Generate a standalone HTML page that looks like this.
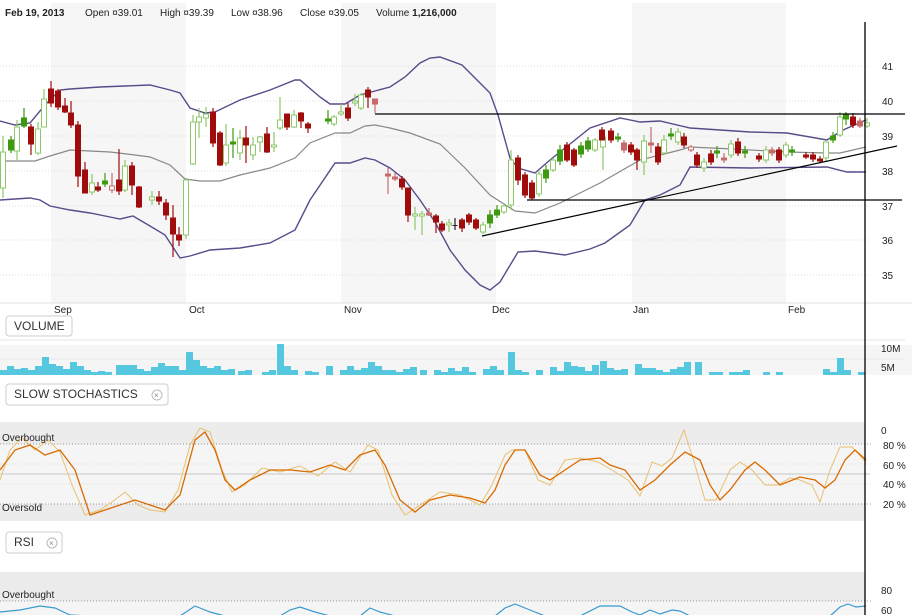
<!DOCTYPE html>
<html><head><meta charset="utf-8">
<style>
body{margin:0;background:#fff;}
svg{display:block}
text{font-family:"Liberation Sans",sans-serif;font-size:10px;fill:#222}
</style></head><body>
<svg width="916" height="615" viewBox="0 0 916 615" xmlns="http://www.w3.org/2000/svg">
<rect x="0" y="0" width="916" height="615" fill="#fff"/>
<rect x="51" y="3" width="135" height="300" fill="#f6f6f6"/>
<rect x="341" y="3" width="155" height="300" fill="#f6f6f6"/>
<rect x="632" y="3" width="154" height="300" fill="#f6f6f6"/>
<line x1="0" y1="303" x2="912" y2="303" stroke="#e0e0e0"/>
<g stroke="#ddd" stroke-dasharray="1,2">
<line x1="0" y1="66" x2="870" y2="66"/><line x1="0" y1="101" x2="870" y2="101"/><line x1="0" y1="136" x2="870" y2="136"/><line x1="0" y1="171" x2="870" y2="171"/><line x1="0" y1="206" x2="870" y2="206"/><line x1="0" y1="240" x2="870" y2="240"/><line x1="0" y1="275" x2="870" y2="275"/>
</g>
<text x="882" y="70">41</text><text x="882" y="105">40</text><text x="882" y="140">39</text><text x="882" y="175">38</text><text x="882" y="210">37</text><text x="882" y="244">36</text><text x="882" y="279">35</text>
<text x="5" y="16" style="font-weight:bold">Feb 19, 2013</text>
<text x="85" y="16">Open  ¤39.01</text>
<text x="160" y="16">High  ¤39.39</text>
<text x="231" y="16">Low  ¤38.96</text>
<text x="300" y="16">Close  ¤39.05</text>
<text x="376" y="16">Volume  <tspan style="font-weight:bold">1,216,000</tspan></text>

<!-- bands -->
<polyline fill="none" stroke="#5a4a8a" stroke-width="1.4" points="0,121 15,125 30,123 45,105 60,90 70,89 100,87 150,85 170,90 180,93 190,108 205,113 215,112 240,100 270,90 295,80 300,80 320,97 330,104 345,104 360,95 375,91 390,87 405,77 420,63 430,58 440,57 462,65 490,93 498,115 510,158 518,168 535,173 550,160 590,128 620,118 640,122 660,121 690,128 750,132 787,133 827,140 843,130 866,120"/>
<polyline fill="none" stroke="#888" stroke-width="1.2" points="0,161 35,161 50,156 70,150 90,151 110,152 135,155 150,157 170,165 185,179 200,181 220,181 240,175 270,168 295,158 310,143 335,133 350,133 365,126 375,125 390,128 410,133 440,144 465,168 490,195 515,211 535,213 560,203 600,183 640,160 680,150 690,147 733,149 787,152 827,153 840,153 866,147"/>
<polyline fill="none" stroke="#5a4a8a" stroke-width="1.4" points="0,200 30,198 40,200 50,206 70,210 90,213 110,217 120,219 133,216 150,226 165,235 180,258 190,256 210,250 240,248 270,243 295,230 310,200 335,163 350,163 365,158 375,160 390,168 405,180 420,200 435,222 450,250 465,270 480,285 490,290 500,282 518,252 535,251 565,255 590,249 605,243 630,225 645,200 660,195 680,185 690,167 750,168 827,167 847,172 866,172"/>

<!-- wicks -->
<g stroke-width="1.2">
<path stroke="#8cc86a" d="M3,136V198M17,120V160M38,122V155M44,89V127M92,174V195M125,160V192M152,191V205M186,178V239M193,115V165M199,108V138M206,107V127M226,124V166M240,130V160M253,137V160M260,136V152M274,132V152M280,97V130M294,110V128M334,115V126M341,104V116M355,94V106M361,93V110M415,207V230M422,211V235M449,219V232M483,222V234M504,203V214M511,150V210M539,170V197M553,158V172M595,138V152M603,130V170M644,135V175M664,135V155M678,128V145M704,158V172M731,140V158M766,146V163M786,142V158M826,140V162M840,112V137M867,118V128"/>
<path stroke="#3d9a10" d="M11,136V153M24,108V128M105,173V187M233,128V158M328,110V124M490,210V228M497,205V218M546,165V183M560,145V165M581,142V158M588,137V152M618,133V142M671,128V140M717,146V158M745,146V158M792,146V156M833,132V143M846,112V125"/>
<path stroke="#c86a6a" d="M112,173V193M375,99V113M388,168V194M395,173V181M429,208V216M624,140V153M651,127V153M691,145V152M724,153V163M772,147V156M860,118V128"/>
<path stroke="#a00c0c" d="M31,124V155M51,81V107M58,89V110M65,98V113M71,101V128M78,121V187M85,162V193M98,182V192M119,149V195M132,162V195M139,186V208M159,191V205M166,199V220M173,205V257M179,227V246M213,108V147M220,131V166M246,126V163M267,127V153M287,114V130M301,112V128M308,122V133M348,103V121M368,87V108M402,176V190M408,188V222M436,214V233M442,221V232M462,218V232M469,213V225M476,218V230M518,155V185M525,172V198M532,180V200M567,142V162M574,148V167M602,127V143M611,128V143M631,142V155M637,148V170M658,143V165M684,133V148M697,152V168M711,150V165M738,138V156M759,153V162M779,147V163M806,152V159M813,152V162M820,156V163M853,113V128"/>
<path stroke="#222" d="M455,218V230"/>
</g>
<g fill="#fff" stroke="#8cc86a">
<rect x="0.5" y="152" width="5" height="36"/><rect x="14.5" y="127" width="5" height="24"/><rect x="35.5" y="129" width="5" height="24"/><rect x="41.5" y="99" width="5" height="28"/><rect x="89.5" y="183" width="5" height="9"/><rect x="122.5" y="166" width="5" height="24"/><rect x="149.5" y="197" width="5" height="3"/><rect x="183.5" y="180" width="5" height="55"/><rect x="190.5" y="122" width="5" height="42"/><rect x="196.5" y="117" width="5" height="5"/><rect x="203.5" y="114" width="5" height="4"/><rect x="223.5" y="145" width="5" height="18"/><rect x="237.5" y="138" width="5" height="15"/><rect x="250.5" y="145" width="5" height="10"/><rect x="257.5" y="137" width="5" height="5"/><rect x="271.5" y="145" width="5" height="2"/><rect x="277.5" y="120" width="5" height="8"/><rect x="291.5" y="115" width="5" height="12"/><rect x="331.5" y="117" width="5" height="7"/><rect x="338.5" y="112" width="5" height="2"/><rect x="352.5" y="101" width="5" height="2"/><rect x="358.5" y="95" width="5" height="13"/><rect x="412.5" y="214" width="5" height="2"/><rect x="419.5" y="214" width="5" height="2"/><rect x="446.5" y="223" width="5" height="2"/><rect x="480.5" y="225" width="5" height="7"/><rect x="501.5" y="206" width="5" height="6"/><rect x="508.5" y="160" width="5" height="45"/><rect x="536.5" y="174" width="5" height="20"/><rect x="550.5" y="160" width="5" height="10"/><rect x="592.5" y="140" width="5" height="10"/><rect x="600.5" y="137" width="5" height="10"/><rect x="641.5" y="141" width="5" height="21"/><rect x="661.5" y="140" width="5" height="13"/><rect x="675.5" y="132" width="5" height="10"/><rect x="701.5" y="162" width="5" height="6"/><rect x="728.5" y="144" width="5" height="11"/><rect x="763.5" y="150" width="5" height="10"/><rect x="783.5" y="145" width="5" height="10"/><rect x="823.5" y="142" width="5" height="16"/><rect x="837.5" y="117" width="5" height="18"/><rect x="864.5" y="123" width="5" height="3"/>
</g>
<g fill="#3d9a10" stroke="#3d9a10">
<rect x="8.5" y="140" width="5" height="10"/><rect x="21.5" y="118" width="5" height="8"/><rect x="102.5" y="181" width="5" height="3"/><rect x="230.5" y="142" width="5" height="2"/><rect x="325.5" y="119" width="5" height="2"/><rect x="487.5" y="215" width="5" height="8"/><rect x="494.5" y="210" width="5" height="5"/><rect x="543.5" y="170" width="5" height="8"/><rect x="557.5" y="150" width="5" height="11"/><rect x="578.5" y="146" width="5" height="8"/><rect x="585.5" y="141" width="5" height="8"/><rect x="615.5" y="137" width="5" height="2"/><rect x="668.5" y="134" width="5" height="2"/><rect x="714.5" y="151" width="5" height="2"/><rect x="742.5" y="151" width="5" height="2"/><rect x="789.5" y="150" width="5" height="2"/><rect x="830.5" y="136" width="5" height="4"/><rect x="843.5" y="115" width="5" height="4"/>
</g>
<g fill="#c86a6a" stroke="#c86a6a">
<rect x="109.5" y="186" width="5" height="4" fill="#fff"/><rect x="372.5" y="99" width="5" height="5"/><rect x="385.5" y="174" width="5" height="2"/><rect x="392.5" y="177" width="5" height="2"/><rect x="426.5" y="213" width="5" height="2"/><rect x="621.5" y="143" width="5" height="7"/><rect x="648.5" y="143" width="5" height="2"/><rect x="688.5" y="147" width="5" height="3" fill="#fff"/><rect x="721.5" y="158" width="5" height="2"/><rect x="769.5" y="150" width="5" height="3"/><rect x="857.5" y="121" width="5" height="5"/>
</g>
<g fill="#a00c0c" stroke="#a00c0c">
<rect x="28.5" y="127" width="5" height="17"/><rect x="48.5" y="89" width="5" height="14"/><rect x="55.5" y="91" width="5" height="16"/><rect x="62.5" y="106" width="5" height="6"/><rect x="68.5" y="113" width="5" height="12"/><rect x="75.5" y="125" width="5" height="51"/><rect x="82.5" y="170" width="5" height="23"/><rect x="95.5" y="187" width="5" height="3"/><rect x="116.5" y="180" width="5" height="11"/><rect x="129.5" y="166" width="5" height="19"/><rect x="136.5" y="187" width="5" height="20"/><rect x="156.5" y="197" width="5" height="4"/><rect x="163.5" y="203" width="5" height="12"/><rect x="170.5" y="218" width="5" height="16"/><rect x="176.5" y="235" width="5" height="5"/><rect x="210.5" y="112" width="5" height="31"/><rect x="217.5" y="133" width="5" height="32"/><rect x="243.5" y="138" width="5" height="7"/><rect x="264.5" y="134" width="5" height="18"/><rect x="284.5" y="114" width="5" height="13"/><rect x="298.5" y="113" width="5" height="8"/><rect x="305.5" y="124" width="5" height="4"/><rect x="345.5" y="108" width="5" height="10"/><rect x="365.5" y="90" width="5" height="7"/><rect x="399.5" y="179" width="5" height="8"/><rect x="405.5" y="188" width="5" height="27"/><rect x="433.5" y="216" width="5" height="6"/><rect x="439.5" y="224" width="5" height="6"/><rect x="459.5" y="220" width="5" height="8"/><rect x="466.5" y="215" width="5" height="7"/><rect x="473.5" y="220" width="5" height="8"/><rect x="515.5" y="158" width="5" height="22"/><rect x="522.5" y="175" width="5" height="20"/><rect x="529.5" y="183" width="5" height="15"/><rect x="564.5" y="145" width="5" height="15"/><rect x="571.5" y="150" width="5" height="15"/><rect x="599.5" y="130" width="5" height="10"/><rect x="608.5" y="131" width="5" height="9"/><rect x="628.5" y="145" width="5" height="7"/><rect x="634.5" y="150" width="5" height="10"/><rect x="655.5" y="147" width="5" height="15"/><rect x="681.5" y="137" width="5" height="8"/><rect x="694.5" y="155" width="5" height="10"/><rect x="708.5" y="154" width="5" height="8"/><rect x="735.5" y="142" width="5" height="11"/><rect x="756.5" y="156" width="5" height="3"/><rect x="776.5" y="150" width="5" height="10"/><rect x="803.5" y="155" width="5" height="2"/><rect x="810.5" y="155" width="5" height="4"/><rect x="817.5" y="159" width="5" height="2"/><rect x="850.5" y="117" width="5" height="8"/>
</g>
<rect x="452.5" y="225" width="5" height="1" fill="#222"/>
<line x1="375" y1="114" x2="905" y2="114" stroke="#000" stroke-width="1.2"/>
<line x1="527" y1="200" x2="902" y2="200" stroke="#000" stroke-width="1.2"/>
<line x1="482" y1="236" x2="897" y2="146" stroke="#000" stroke-width="1.2"/>

<text x="54" y="313">Sep</text><text x="189" y="313">Oct</text><text x="344" y="313">Nov</text>
<text x="492" y="313">Dec</text><text x="633" y="313">Jan</text><text x="788" y="313">Feb</text>

<rect x="6" y="316" width="66" height="20" rx="3" fill="#fff" stroke="#ccc"/>
<text x="14" y="330" style="font-size:12px;fill:#333">VOLUME</text>
<rect x="0" y="345" width="912" height="30" fill="#f5f5f5"/>
<line x1="0" y1="340" x2="905" y2="340" stroke="#e6e6e6"/>
<line x1="0" y1="359" x2="905" y2="359" stroke="#e6e6e6"/>
<g fill="#55c8e0">
<rect x="0" y="370" width="7" height="5"/><rect x="7" y="366" width="7" height="9"/><rect x="14" y="369" width="7" height="6"/><rect x="21" y="368" width="7" height="7"/><rect x="28" y="370" width="7" height="5"/><rect x="35" y="366" width="7" height="9"/><rect x="42" y="357" width="7" height="18"/><rect x="49" y="364" width="7" height="11"/><rect x="56" y="366" width="7" height="9"/><rect x="63" y="369" width="7" height="6"/><rect x="70" y="362" width="7" height="13"/><rect x="77" y="366" width="7" height="9"/><rect x="84" y="370" width="7" height="5"/><rect x="91" y="372" width="7" height="3"/><rect x="98" y="371" width="7" height="4"/><rect x="105" y="372" width="7" height="3"/><rect x="116" y="365" width="7" height="10"/><rect x="123" y="365" width="7" height="10"/><rect x="130" y="365" width="7" height="10"/><rect x="137" y="369" width="7" height="6"/><rect x="144" y="371" width="7" height="4"/><rect x="151" y="367" width="7" height="8"/><rect x="158" y="363" width="7" height="12"/><rect x="165" y="366" width="7" height="9"/><rect x="172" y="366" width="7" height="9"/><rect x="179" y="370" width="7" height="5"/><rect x="186" y="352" width="7" height="23"/><rect x="193" y="360" width="7" height="15"/><rect x="200" y="366" width="7" height="9"/><rect x="207" y="368" width="7" height="7"/><rect x="214" y="366" width="7" height="9"/><rect x="221" y="370" width="7" height="5"/><rect x="228" y="369" width="7" height="6"/><rect x="238" y="371" width="7" height="4"/><rect x="245" y="370" width="7" height="5"/><rect x="262" y="372" width="7" height="3"/><rect x="269" y="370" width="7" height="5"/><rect x="277" y="344" width="7" height="31"/><rect x="284" y="366" width="7" height="9"/><rect x="291" y="370" width="7" height="5"/><rect x="305" y="371" width="7" height="4"/><rect x="312" y="372" width="7" height="3"/><rect x="326" y="366" width="7" height="9"/><rect x="340" y="370" width="7" height="5"/><rect x="347" y="366" width="7" height="9"/><rect x="354" y="370" width="7" height="5"/><rect x="361" y="368" width="7" height="7"/><rect x="368" y="362" width="7" height="13"/><rect x="375" y="366" width="7" height="9"/><rect x="382" y="370" width="7" height="5"/><rect x="389" y="370" width="7" height="5"/><rect x="396" y="372" width="7" height="3"/><rect x="403" y="369" width="7" height="6"/><rect x="410" y="367" width="7" height="8"/><rect x="420" y="370" width="7" height="5"/><rect x="434" y="370" width="7" height="5"/><rect x="441" y="372" width="7" height="3"/><rect x="448" y="368" width="7" height="7"/><rect x="455" y="371" width="7" height="4"/><rect x="462" y="367" width="7" height="8"/><rect x="469" y="372" width="7" height="3"/><rect x="483" y="369" width="7" height="6"/><rect x="490" y="366" width="7" height="9"/><rect x="497" y="370" width="7" height="5"/><rect x="508" y="352" width="7" height="23"/><rect x="515" y="370" width="7" height="5"/><rect x="522" y="372" width="7" height="3"/><rect x="536" y="370" width="7" height="5"/><rect x="550" y="367" width="7" height="8"/><rect x="557" y="371" width="7" height="4"/><rect x="564" y="362" width="7" height="13"/><rect x="571" y="366" width="7" height="9"/><rect x="578" y="367" width="7" height="8"/><rect x="585" y="371" width="7" height="4"/><rect x="592" y="365" width="7" height="10"/><rect x="600" y="361" width="7" height="14"/><rect x="607" y="368" width="7" height="7"/><rect x="614" y="370" width="7" height="5"/><rect x="621" y="369" width="7" height="6"/><rect x="635" y="364" width="7" height="11"/><rect x="642" y="368" width="7" height="7"/><rect x="649" y="368" width="7" height="7"/><rect x="656" y="370" width="7" height="5"/><rect x="663" y="372" width="7" height="3"/><rect x="670" y="369" width="7" height="6"/><rect x="677" y="367" width="7" height="8"/><rect x="684" y="362" width="7" height="13"/><rect x="695" y="362" width="7" height="13"/><rect x="709" y="372" width="7" height="3"/><rect x="716" y="372" width="7" height="3"/><rect x="729" y="372" width="7" height="3"/><rect x="736" y="372" width="7" height="3"/><rect x="743" y="370" width="7" height="5"/><rect x="763" y="372" width="7" height="3"/><rect x="776" y="372" width="7" height="3"/><rect x="823" y="369" width="7" height="6"/><rect x="830" y="372" width="7" height="3"/><rect x="837" y="358" width="7" height="17"/><rect x="844" y="370" width="7" height="5"/><rect x="858" y="372" width="7" height="3"/>
</g>
<text x="881" y="352">10M</text><text x="881" y="371">5M</text>

<rect x="6" y="384" width="162" height="21" rx="3" fill="#fff" stroke="#ccc"/>
<text x="14" y="398" style="font-size:12px;fill:#333">SLOW STOCHASTICS</text>
<circle cx="157" cy="395" r="5" fill="#fff" stroke="#bbb"/><text x="154" y="398" style="font-size:8px;fill:#888">×</text>
<rect x="0" y="422" width="865" height="99" fill="#ececec"/>
<rect x="0" y="444" width="865" height="60" fill="#f5f5f5"/>
<line x1="0" y1="444" x2="872" y2="444" stroke="#999" stroke-dasharray="1,2"/>
<line x1="0" y1="504" x2="872" y2="504" stroke="#999" stroke-dasharray="1,2"/>
<line x1="0" y1="464" x2="872" y2="464" stroke="#ddd" stroke-dasharray="1,2"/>
<line x1="0" y1="484" x2="872" y2="484" stroke="#ddd" stroke-dasharray="1,2"/>
<line x1="0" y1="474" x2="870" y2="474" stroke="#c8c8c8"/>
<polyline fill="none" stroke="#e8c070" stroke-width="1" points="0,480 10,450 22,438 35,450 48,440 60,452 72,485 85,515 100,510 112,502 125,492 138,505 150,510 165,512 178,490 190,445 200,428 210,432 222,470 232,492 245,485 262,468 280,472 300,466 318,476 335,462 350,472 368,445 378,450 392,495 405,515 420,505 440,492 460,495 480,505 492,485 505,455 512,450 525,450 538,480 550,485 565,460 580,458 598,462 612,470 628,480 640,496 652,462 662,466 672,458 684,430 695,465 705,500 716,500 730,470 740,462 752,470 765,485 778,485 790,478 800,480 812,485 820,502 830,470 840,447 852,447 866,462"/>
<polyline fill="none" stroke="#d96a00" stroke-width="1.3" points="0,470 15,450 30,445 45,455 60,450 75,470 90,515 105,510 120,505 135,500 150,505 165,510 180,495 195,440 205,432 215,450 225,480 235,490 250,480 270,470 290,470 310,472 330,465 345,470 360,455 375,450 385,465 400,500 415,512 430,500 450,495 470,498 485,503 495,490 505,465 515,450 525,450 540,475 550,480 565,470 580,460 600,458 610,465 625,470 640,490 655,480 670,465 685,452 700,460 710,485 720,500 730,490 745,470 755,462 765,470 780,485 800,477 815,480 825,488 835,480 845,460 855,450 866,460"/>
<text x="2" y="441">Overbought</text><text x="2" y="511">Oversold</text>
<text x="881" y="434">0</text><text x="883" y="449">80  %</text><text x="883" y="469">60  %</text>
<text x="883" y="488">40  %</text><text x="883" y="508">20  %</text>

<rect x="6" y="532" width="56" height="21" rx="3" fill="#fff" stroke="#ccc"/>
<text x="14" y="546" style="font-size:12px;fill:#333">RSI</text>
<circle cx="52" cy="543" r="5" fill="#fff" stroke="#bbb"/><text x="49" y="546" style="font-size:8px;fill:#888">×</text>
<rect x="0" y="572" width="865" height="43" fill="#ececec"/>
<rect x="0" y="601" width="865" height="14" fill="#f5f5f5"/>
<line x1="0" y1="601" x2="872" y2="601" stroke="#999" stroke-dasharray="1,2"/>
<polyline fill="none" stroke="#3a9ad0" stroke-width="1.2" points="0,612 20,610 40,606 55,608 70,615 90,616 180,616 195,606 210,612 225,616 280,616 290,610 300,607 315,612 330,616 360,616 370,608 380,612 395,616 495,616 505,608 515,604 530,610 545,616 580,616 600,606 620,606 632,612 640,615 650,610 660,614 672,610 680,611 690,616 830,616 840,607 848,604 856,607 866,606"/>
<text x="2" y="598">Overbought</text>
<text x="881" y="594">80</text><text x="881" y="614">60</text>
<line x1="865" y1="22" x2="865" y2="615" stroke="#000" stroke-width="1.3"/>
</svg>
</body></html>
